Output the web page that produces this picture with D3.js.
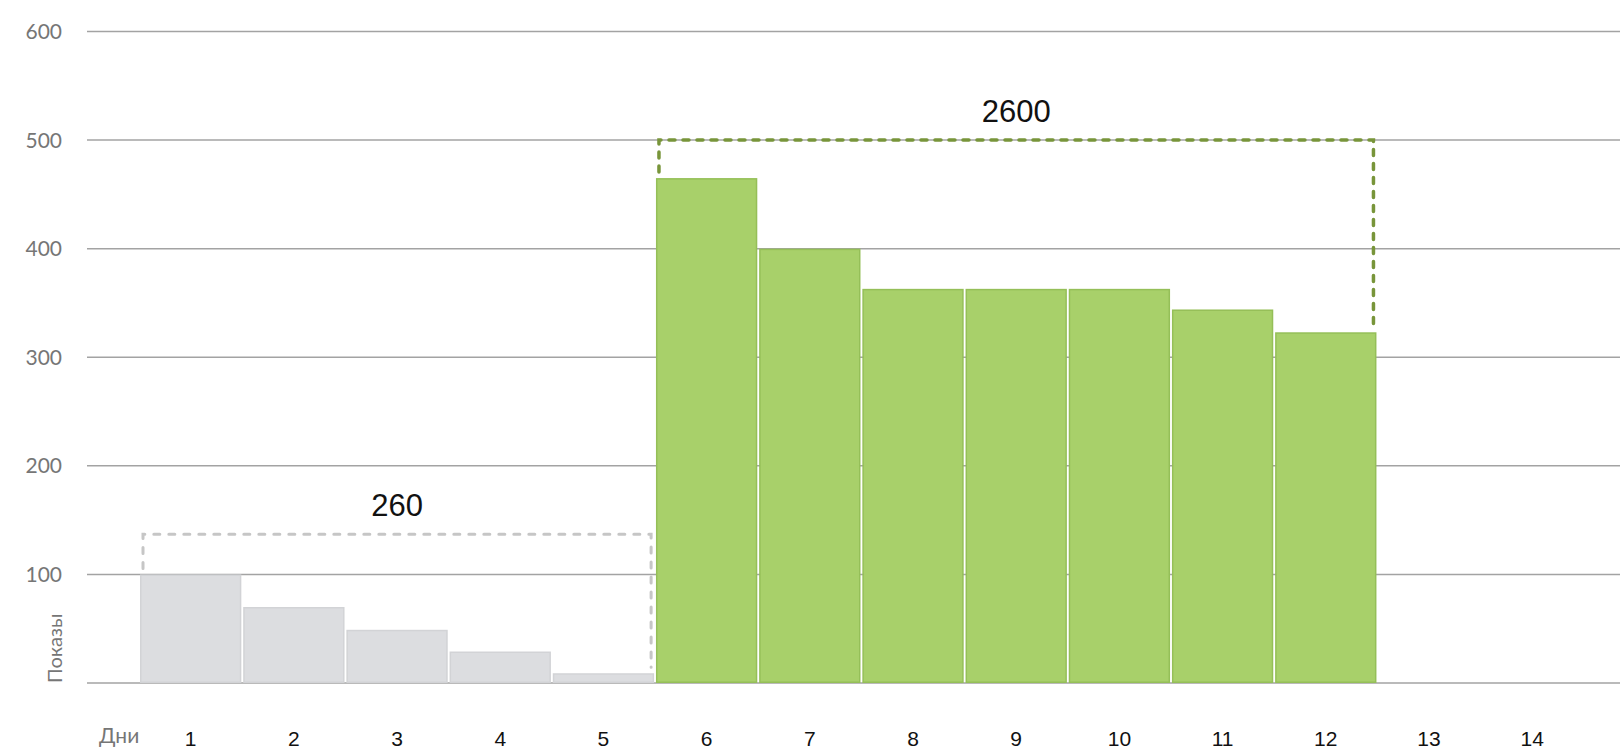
<!DOCTYPE html>
<html>
<head>
<meta charset="utf-8">
<script src="https://cdn.jsdelivr.net/npm/d3@7"></script>
<style>
    body { margin: 0; background: #fff; }
    .axis-label { font-family: Lato, sans-serif; fill: #767676; }
    .day-label { font-family: Arial, "Liberation Sans", sans-serif; fill: #111; }
    .total-label { font-family: Arial, "Liberation Sans", sans-serif; fill: #111; }
</style>
</head>
<body>
<div id="graph"></div>
<script>
// Days on the x axis
const days = ['1', '2', '3', '4', '5', '6', '7', '8', '9', '10', '11', '12', '13', '14'];
// Views per day, before and after the change
const beforeViews = [100, 70, 49, 29, 9];
const afterViews = [465, 400, 363, 363, 363, 344, 323];
// Y gridlines and labels
const yTicks = [0, 100, 200, 300, 400, 500, 600];
// Totals shown over the dashed boxes
const groupTotals = ['260', '2600'];
const groupTops = [137, 500];

function showGraph() {
    var width = 1620, height = 751;
    var svg = d3.select('#graph').append('svg')
        .attr('width', width)
        .attr('height', height);

    var x = d3.scaleBand()
        .domain(days)
        .range([140, 140 + 14 * 103.06])
        .paddingInner(0.018)
        .paddingOuter(0);
    var y = d3.scaleLinear().domain([0, 600]).range([683, 31.5]);

    // gridlines
    svg.append('g').selectAll('line').data(yTicks).enter()
        .append('line')
        .attr('x1', 87).attr('x2', width)
        .attr('y1', d => y(d)).attr('y2', d => y(d))
        .attr('stroke', '#a3a3a3')
        .attr('stroke-width', 1.5);

    // y labels (the 0 tick has none)
    svg.append('g').selectAll('text').data(yTicks.filter(d => d > 0)).enter()
        .append('text')
        .attr('class', 'axis-label')
        .attr('x', 62)
        .attr('y', d => y(d))
        .attr('dy', '0.36em')
        .attr('text-anchor', 'end')
        .style('font-size', '21px')
        .text(d => d);

    svg.append('text')
        .attr('class', 'axis-label')
        .attr('transform', 'translate(62,683) rotate(-90)')
        .style('font-size', '20px')
        .text('Показы');

    // bars
    var bars = beforeViews.map((v, i) => ({day: days[i], value: v, group: 0}))
        .concat(afterViews.map((v, i) => ({day: days[i + beforeViews.length], value: v, group: 1})));
    var fills = ['#dcdde0', '#a8d06a'];
    var edges = ['#d2d3d6', '#95bf58'];

    svg.append('g').selectAll('rect').data(bars).enter()
        .append('rect')
        .attr('x', d => x(d.day) + 0.75)
        .attr('y', d => y(d.value) + 0.75)
        .attr('width', x.bandwidth() - 1.5)
        .attr('height', d => y(0) - y(d.value) - 1.5)
        .attr('fill', d => fills[d.group])
        .attr('stroke', d => edges[d.group])
        .attr('stroke-width', 1.5);

    // dashed boxes around each group, with the totals on top
    var groups = [beforeViews, afterViews];
    var strokes = ['#c6c6c6', '#78953a'];
    var offset = 0;
    groups.forEach(function(vals, gi) {
        var first = days[offset], last = days[offset + vals.length - 1];
        var x0 = x(first) + 3;
        var x1 = x(last) + x.bandwidth() - 3;
        var top = y(groupTops[gi]);
        var path = d3.path();
        path.moveTo(x0, y(vals[0]) - 6);
        path.lineTo(x0, top);
        path.lineTo(x1, top);
        path.lineTo(x1, y(vals[vals.length - 1]) - 6);
        svg.append('path')
            .attr('d', path.toString())
            .attr('fill', 'none')
            .attr('stroke', strokes[gi])
            .attr('stroke-width', gi ? 3.5 : 3)
            .attr('stroke-linecap', 'round')
            .attr('stroke-dasharray', gi ? '6,8' : '6,9');
        svg.append('text')
            .attr('class', 'total-label')
            .attr('x', (x0 + x1) / 2)
            .attr('y', top - 18)
            .attr('text-anchor', 'middle')
            .style('font-size', '31px')
            .text(groupTotals[gi]);
        offset += vals.length;
    });

    // x labels
    svg.append('text')
        .attr('class', 'axis-label')
        .attr('x', 99)
        .attr('y', 743)
        .style('font-size', '21px')
        .text('Дни');

    svg.append('g').selectAll('text').data(days).enter()
        .append('text')
        .attr('class', 'day-label')
        .attr('x', d => x(d) + x.bandwidth() / 2)
        .attr('y', 746)
        .attr('text-anchor', 'middle')
        .style('font-size', '21px')
        .text(d => d);
}

document.addEventListener('DOMContentLoaded', function() {
    showGraph();
});
</script>
</body>
</html>
